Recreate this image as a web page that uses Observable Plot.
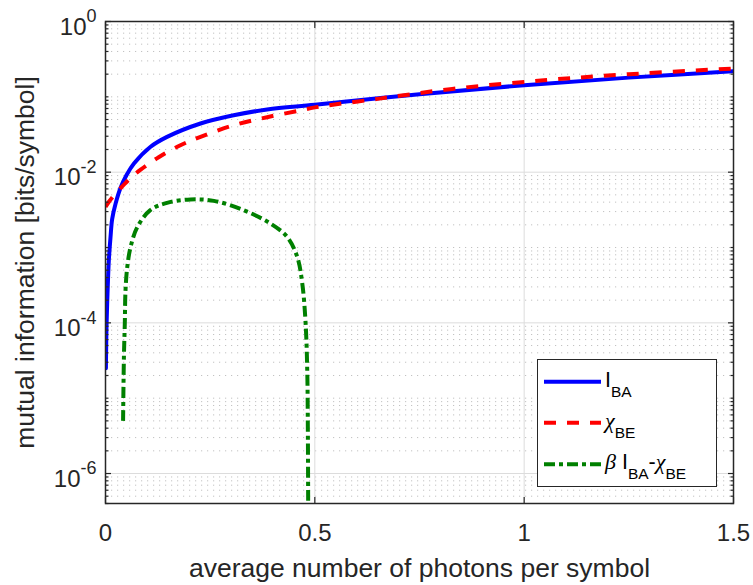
<!DOCTYPE html>
<html>
<head>
<meta charset="utf-8">
<script src="https://cdn.jsdelivr.net/npm/d3@7"></script>
<script src="https://cdn.jsdelivr.net/npm/@observablehq/plot@0.6"></script>
<style>
  body { margin: 0; background: #fff; }
  #chart { position: relative; width: 753px; height: 585px; }
  #legend { position: absolute; left: 537px; top: 359px; }
</style>
</head>
<body>
<div id="chart"></div>
<script>
// Mean photon number per symbol (x) and mutual information in bits/symbol (y)
const iBAx = [0.001, 0.0013, 0.0024, 0.0048, 0.008, 0.012, 0.016, 0.024, 0.036, 0.05, 0.068, 0.107, 0.147, 0.227, 0.306, 0.386, 0.5, 0.75, 1.0, 1.25, 1.5];
const iBAy = [2.5e-5, 3.5e-5, 8.9e-5, 2.45e-4, 6.8e-4, 1.38e-3, 2.4e-3, 3.8e-3, 6.2e-3, 9.1e-3, 1.30e-2, 2.16e-2, 2.94e-2, 4.43e-2, 5.70e-2, 6.79e-2, 7.85e-2, 0.1084, 0.1429, 0.1799, 0.2188];

const chiBEx = [0, 0.01, 0.02, 0.04, 0.06, 0.084, 0.127, 0.179, 0.227, 0.306, 0.386, 0.466, 0.5, 0.65, 0.828, 1.047, 1.25, 1.5];
const chiBEy = [3.47e-3, 4.17e-3, 4.90e-3, 6.46e-3, 8.41e-3, 1.08e-2, 1.58e-2, 2.28e-2, 2.94e-2, 4.20e-2, 5.37e-2, 6.61e-2, 7.24e-2, 9.40e-2, 0.1274, 0.1660, 0.1995, 0.2377];

const diffX = [0.042, 0.044, 0.0461, 0.0478, 0.052, 0.06, 0.076, 0.107, 0.147, 0.203, 0.259, 0.33, 0.394, 0.434, 0.458, 0.47, 0.478, 0.482, 0.4833, 0.4842];
const diffY = [5.0e-6, 3.55e-5, 9.8e-5, 2.71e-4, 5.53e-4, 1.02e-3, 1.87e-3, 3.13e-3, 3.91e-3, 4.34e-3, 4.16e-3, 3.13e-3, 2.08e-3, 1.38e-3, 7.5e-4, 3.33e-4, 9.8e-5, 2.14e-5, 4.0e-6, 2.5e-7];

const xTicks = [0, 0.5, 1, 1.5];
const yTickExps = [-6, -4, -2, 0];
const yDomain = [4e-7, 1];

const ink = "#262626";
const fontFamily = '"Liberation Sans", Arial, Helvetica, sans-serif';

const toRows = (xs, ys) => xs.map((x, i) => ({x, y: ys[i]}));

const yMajor = yTickExps.map(e => Math.pow(10, e));
const yMinor = [];
for (let e = -7; e <= 0; e++) {
  for (let k = 1; k <= 9; k++) {
    const v = k * Math.pow(10, e);
    if (v < yDomain[0] || v > yDomain[1]) continue;
    if (k === 1 && yTickExps.includes(e)) continue;
    yMinor.push(v);
  }
}

const expText = e => String(e);
const negExps = yTickExps.filter(e => e < 0);
const zeroExps = yTickExps.filter(e => e >= 0);
const baseSize = 24, expSize = 18;
const expGap = 9;
const blank = () => "";

// inward tick marks on all four sides, no labels
const ticks = (anchor, values, size) =>
  (anchor === "top" || anchor === "bottom" ? Plot.axisX : Plot.axisY)(
    {ticks: values, anchor, tickSize: size, tickFormat: blank, label: null, stroke: ink, strokeWidth: 1.2}
  );

const chart = Plot.plot({
  width: 753,
  height: 585,
  marginLeft: 105,
  marginRight: 20,
  marginTop: 21,
  marginBottom: 82,
  style: {fontFamily, fontSize: "24px", color: ink, background: "#fff", overflow: "visible"},
  x: {domain: [0, 1.5], axis: null},
  y: {type: "log", domain: yDomain, axis: null},
  marks: [
    // grid
    Plot.gridY({ticks: yMinor, stroke: "#a8a8a8", strokeOpacity: 0.7, strokeDasharray: "1.2,4.8"}),
    Plot.gridY({ticks: yMajor, stroke: "#dcdcdc", strokeOpacity: 1}),
    Plot.gridX({ticks: xTicks.slice(1, -1), stroke: "#dcdcdc", strokeOpacity: 1}),

    // curves
    Plot.line(toRows(iBAx, iBAy), {x: "x", y: "y", stroke: "#0000ff", strokeWidth: 4, curve: "catmull-rom", clip: true}),
    Plot.line(toRows(chiBEx, chiBEy), {x: "x", y: "y", stroke: "#ff0000", strokeWidth: 4, strokeDasharray: "12,11", strokeLinecap: "butt", curve: "catmull-rom", clip: true}),
    Plot.line(toRows(diffX, diffY), {x: "x", y: "y", stroke: "#008000", strokeWidth: 4, strokeDasharray: "11,4,4,4", strokeLinecap: "butt", curve: "catmull-rom", clip: true}),

    // box and ticks
    Plot.frame({stroke: ink, strokeWidth: 1.5}),
    ticks("bottom", xTicks, -6),
    ticks("top", xTicks, -6),
    ticks("left", yMajor, -6),
    ticks("right", yMajor, -6),
    ticks("left", yMinor, -3.5),
    ticks("right", yMinor, -3.5),

    // x tick labels
    Plot.text(xTicks, {x: d => d, frameAnchor: "bottom", dy: 30, text: d => String(d), lineAnchor: "middle", textAnchor: "middle", fontSize: baseSize, fill: ink}),

    // y tick labels: 10 with a raised exponent
    Plot.text(negExps, {y: e => Math.pow(10, e), frameAnchor: "left", dx: -expGap, dy: -5, text: expText, textAnchor: "end", lineAnchor: "middle", fontSize: expSize, fill: ink}),
    Plot.text(zeroExps, {y: e => Math.pow(10, e), frameAnchor: "left", dx: -expGap, dy: -5, text: expText, textAnchor: "end", lineAnchor: "middle", fontSize: expSize, fill: ink}),
    Plot.text(negExps, {y: e => Math.pow(10, e), frameAnchor: "left", dx: -expGap - expSize * 0.889, dy: 5.5, text: () => "10", textAnchor: "end", lineAnchor: "middle", fontSize: baseSize, fill: ink}),
    Plot.text(zeroExps, {y: e => Math.pow(10, e), frameAnchor: "left", dx: -expGap - expSize * 0.556, dy: 5.5, text: () => "10", textAnchor: "end", lineAnchor: "middle", fontSize: baseSize, fill: ink}),

    // axis titles
    Plot.text(["average number of photons per symbol"], {frameAnchor: "bottom", dy: 65, textAnchor: "middle", lineAnchor: "middle", fontSize: 26.5, fill: ink}),
    Plot.text(["mutual information [bits/symbol]"], {frameAnchor: "left", dx: -80, rotate: -90, textAnchor: "middle", lineAnchor: "middle", fontSize: 26.5, fill: ink})
  ]
});

const host = document.getElementById("chart");
host.append(chart);

// legend box
const NS = "http://www.w3.org/2000/svg";
const legend = document.createElementNS(NS, "svg");
legend.setAttribute("id", "legend");
legend.setAttribute("width", 181);
legend.setAttribute("height", 129);
const styles = [
  {stroke: "#0000ff", dash: null},
  {stroke: "#ff0000", dash: "12,11"},
  {stroke: "#008000", dash: "11,4,4,4"}
];
const rowY = [22.7, 63.7, 105.3];
const serif = '"Liberation Serif", "DejaVu Serif", serif';
const labelParts = [
  [["I", "n"], ["BA", "s"]],
  [["χ", "g"], ["BE", "s"]],
  [["β", "g"], [" I", "n"], ["BA", "s"], ["-", "u"], ["χ", "g"], ["BE", "s"]]
];
let html = `<rect x="0.5" y="0.5" width="179" height="127" fill="#fff" stroke="${ink}" stroke-width="1"/>`;
styles.forEach((s, i) => {
  const y = rowY[i];
  html += `<line x1="7" x2="64" y1="${y}" y2="${y}" stroke="${s.stroke}" stroke-width="4"${s.dash ? ` stroke-dasharray="${s.dash}"` : ""} stroke-linecap="butt"/>`;
  let t = `<text x="68" y="${y + 5}" fill="#000" font-family='${fontFamily}' font-size="21.5">`;
  let sub = false;
  for (const [str, kind] of labelParts[i]) {
    let dy = 0;
    if (kind === "s" && !sub) { dy = 10; sub = true; }
    else if (kind !== "s" && sub) { dy = -10; sub = false; }
    const attrs = [];
    if (dy) attrs.push(`dy="${dy}"`);
    if (kind === "s") attrs.push(`font-size="15.5"`);
    if (kind === "g") attrs.push(`font-family='${serif}' font-style="italic" font-size="22"`);
    t += `<tspan ${attrs.join(" ")} xml:space="preserve">${str}</tspan>`;
  }
  t += `</text>`;
  html += t;
});
legend.innerHTML = html;
host.append(legend);
</script>
</body>
</html>
